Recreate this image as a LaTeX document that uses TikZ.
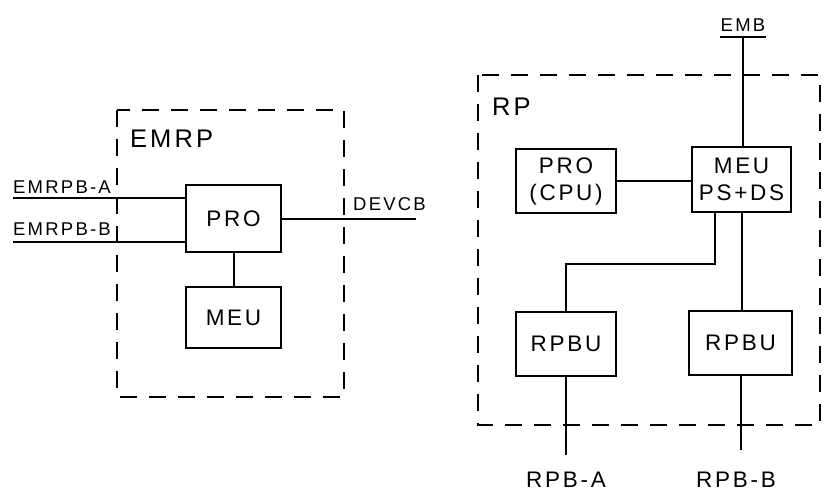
\documentclass[tikz,border=0pt]{standalone}
\usepackage{fontspec}
\setmainfont{Liberation Sans}[LetterSpace=12]

\tikzset{
  unit/.style={draw, line width=2.1pt, minimum width=95pt, minimum height=64pt, inner sep=0pt, align=center, font=\fontsize{22.5}{27}\selectfont},
  frame/.style={line width=1.6pt, dash pattern=on 17pt off 12pt},
  bus/.style={line width=2pt},
  lbl/.style={inner sep=0pt, font=\fontsize{18.5}{20}\selectfont},
  buslbl/.style={inner sep=0pt, font=\fontsize{22.5}{24}\selectfont},
  title/.style={inner sep=0pt, font=\fontsize{25.5}{28}\selectfont}
}

\begin{document}
\begin{tikzpicture}[x=1pt, y=-1pt]
\useasboundingbox (0,0) rectangle (826,492);
% EMRP
\draw[frame] (117,110) rectangle (344,397);
\node[title, anchor=base west] (emrp) at (130,147){EMRP};
\node[unit, minimum height=67pt] (pro) at (233.5,218.5){PRO};
\node[unit, minimum height=61pt] (meu) at (233.5,317.5){MEU};
\coordinate (busa) at (13,198);
\coordinate (busb) at (13,242);
\coordinate (devcb) at (416,218.5);
\draw[bus] (busa) -- (busa -| pro.west);
\draw[bus] (busb) -- (busb -| pro.west);
\draw[bus] (pro.east) -- (devcb);
\draw[bus] (pro.south) -- (meu.north);
\node[lbl, anchor=base west] (labela) at (13,193){EMRPB-A};
\node[lbl, anchor=base west] (labelb) at (13,235){EMRPB-B};
\node[lbl, anchor=base west] (labeldev) at (353,210){DEVCB};
% RP
\draw[frame] (478,75) rectangle (820,425);
\node[title, anchor=base west] (rp) at (492,116){RP};
\node[unit, minimum width=100pt] (cpu) at (566,181){PRO\\(CPU)};
\node[unit, minimum width=99pt, minimum height=65pt] (meu2) at (741.5,179.5){MEU\\PS+DS};
\node[unit, minimum width=100pt] (rpbu1) at (566,344){RPBU};
\node[unit, minimum width=103pt] (rpbu2) at (740.5,343){RPBU};
\node[lbl, anchor=base] (emb) at (743,32){EMB};
\coordinate (embbus) at (743,37);
\draw[bus] ([xshift=-23pt]embbus) -- ([xshift=23pt]embbus);
\draw[bus] (embbus) -- (embbus |- meu2.north);
\draw[bus] (cpu.east) -- (cpu.east -| meu2.west);
\draw[bus] ([xshift=-27pt]meu2.south) -- ++(0,51) -| (rpbu1.north);
\draw[bus] (meu2.south) -- (meu2.south |- rpbu2.north);
\coordinate (rpba) at (566,455);
\coordinate (rpbb) at (740.5,450);
\draw[bus] (rpbu1.south) -- (rpba);
\draw[bus] (rpbu2.south) -- (rpbb);
\node[buslbl, anchor=base] (labelrpba) at (566,487){RPB-A};
\node[buslbl, anchor=base] (labelrpbb) at (736,487){RPB-B};
\end{tikzpicture}
\end{document}
